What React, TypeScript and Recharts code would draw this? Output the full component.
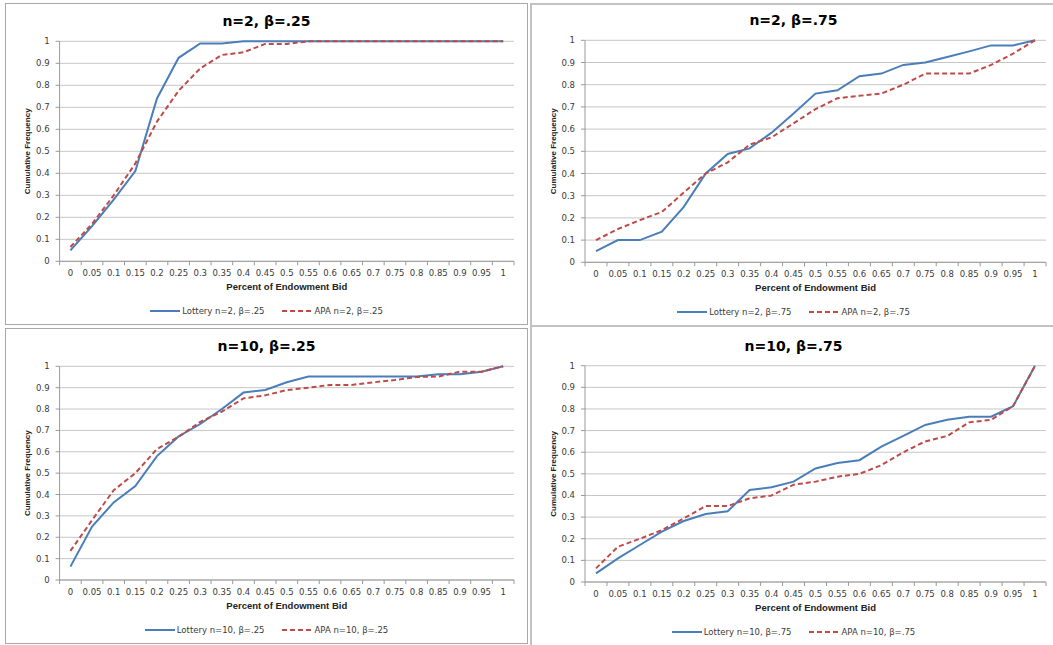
import React from "react"
import { LineChart, Line, XAxis, YAxis, CartesianGrid } from "recharts"

// category axis (share of endowment bid) and value-axis ticks
const bids = ["0", "0.05", "0.1", "0.15", "0.2", "0.25", "0.3", "0.35", "0.4", "0.45", "0.5", "0.55", "0.6", "0.65", "0.7", "0.75", "0.8", "0.85", "0.9", "0.95", "1"]
const yTicks = [0, 0.1, 0.2, 0.3, 0.4, 0.5, 0.6, 0.7, 0.8, 0.9, 1]

// cumulative frequencies
const lotteryN2B25 = [0.05, 0.16, 0.28, 0.41, 0.74, 0.925, 0.99, 0.99, 1, 1, 1, 1, 1, 1, 1, 1, 1, 1, 1, 1, 1]
const apaN2B25 = [0.065, 0.17, 0.3, 0.445, 0.635, 0.775, 0.877, 0.938, 0.95, 0.988, 0.988, 1, 1, 1, 1, 1, 1, 1, 1, 1, 1]

const lotteryN2B75 = [0.05, 0.1, 0.1, 0.138, 0.25, 0.4, 0.488, 0.513, 0.584, 0.67, 0.76, 0.775, 0.838, 0.85, 0.889, 0.9, 0.925, 0.95, 0.977, 0.977, 1]
const apaN2B75 = [0.1, 0.15, 0.19, 0.227, 0.314, 0.4, 0.45, 0.53, 0.563, 0.626, 0.69, 0.739, 0.75, 0.76, 0.8, 0.85, 0.85, 0.85, 0.889, 0.94, 1]

const lotteryN10B25 = [0.0625, 0.25, 0.363, 0.44, 0.58, 0.672, 0.73, 0.8, 0.877, 0.889, 0.925, 0.952, 0.952, 0.952, 0.952, 0.952, 0.952, 0.963, 0.963, 0.975, 1]
const apaN10B25 = [0.136, 0.28, 0.42, 0.5, 0.613, 0.67, 0.74, 0.788, 0.85, 0.864, 0.889, 0.9, 0.913, 0.913, 0.925, 0.936, 0.95, 0.952, 0.975, 0.975, 1]

const lotteryN10B75 = [0.04, 0.109, 0.171, 0.233, 0.282, 0.314, 0.327, 0.425, 0.438, 0.464, 0.525, 0.55, 0.563, 0.626, 0.676, 0.726, 0.75, 0.764, 0.764, 0.813, 1]
const apaN10B75 = [0.063, 0.163, 0.2, 0.24, 0.294, 0.351, 0.351, 0.387, 0.4, 0.45, 0.464, 0.487, 0.5, 0.54, 0.6, 0.65, 0.675, 0.738, 0.75, 0.813, 1]

const BLUE = "#4A7EBB"
const RED = "#BE4B48"
const GRID = "#C6C6C6"
const AXIS = "#9A9A9A"
const TEXT = "#3A3A3A"
const FONT = "'DejaVu Sans', Verdana, sans-serif"
const TITLE_FONT = "'Liberation Sans', Arial, sans-serif"

const Y_AXIS_W = 40
const X_AXIS_H = 30

const panels = [
  {
    title: "n=2, β=.25",
    lottery: lotteryN2B25,
    apa: apaN2B25,
    lotteryName: "Lottery n=2, β=.25",
    apaName: "APA n=2, β=.25",
    box: { left: 5, top: 3, width: 523, height: 322, border: "1px solid #A8A8A8" },
    plot: { x1: 59.6, x2: 514, y1: 41.3, y2: 261.3 },
  },
  {
    title: "n=2, β=.75",
    lottery: lotteryN2B75,
    apa: apaN2B75,
    lotteryName: "Lottery n=2, β=.75",
    apaName: "APA n=2, β=.75",
    box: { left: 530, top: 3, width: 527, height: 324, border: "2px solid #C2C2C2" },
    plot: { x1: 585, x2: 1046, y1: 40.3, y2: 262.3 },
  },
  {
    title: "n=10, β=.25",
    lottery: lotteryN10B25,
    apa: apaN10B25,
    lotteryName: "Lottery n=10, β=.25",
    apaName: "APA n=10, β=.25",
    box: { left: 5, top: 328, width: 523, height: 316, border: "1px solid #A8A8A8" },
    plot: { x1: 59.6, x2: 514, y1: 366.3, y2: 580 },
  },
  {
    title: "n=10, β=.75",
    lottery: lotteryN10B75,
    apa: apaN10B75,
    lotteryName: "Lottery n=10, β=.75",
    apaName: "APA n=10, β=.75",
    box: { left: 530, top: 325, width: 527, height: 330, border: "2px solid #C2C2C2" },
    plot: { x1: 585, x2: 1046, y1: 365.7, y2: 582 },
  },
]

// category tick: label at band centre, Excel-style tick mark at band edges
const XTick = (props: any) => {
  const { x, y, payload, index, visibleTicksCount, width } = props
  const half = payload.offset || width / visibleTicksCount / 2
  return (
    <g>
      <line x1={x - half} x2={x - half} y1={y - 4} y2={y} stroke={AXIS} />
      {index === visibleTicksCount - 1 && <line x1={x + half} x2={x + half} y1={y - 4} y2={y} stroke={AXIS} />}
      <text x={x} y={y + 11} textAnchor="middle" fontSize={8.5} fontFamily={FONT} fill={TEXT}>
        {payload.value}
      </text>
    </g>
  )
}

const LegendItem = ({ color, dashed, name }: { color: string; dashed?: boolean; name: string }) => (
  <div style={{ display: "flex", alignItems: "center" }}>
    <svg width={30} height={6}>
      <line x1={0} x2={30} y1={3} y2={3} stroke={color} strokeWidth={2} strokeDasharray={dashed ? "5 3" : undefined} />
    </svg>
    <span style={{ marginLeft: 2, fontSize: 8.5, fontFamily: FONT, color: TEXT }}>{name}</span>
  </div>
)

const Panel = ({ p }: { p: (typeof panels)[number] }) => {
  const { box, plot } = p
  const rows = bids.map((bid, i) => ({ bid, lottery: p.lottery[i], apa: p.apa[i] }))
  const margin = {
    top: plot.y1 - box.top,
    left: plot.x1 - box.left - Y_AXIS_W,
    right: box.left + box.width - plot.x2,
    bottom: box.top + box.height - plot.y2 - X_AXIS_H,
  }

  return (
    <>
      <div
        style={{
          position: "absolute",
          left: box.left,
          top: box.top,
          width: box.width,
          height: box.height,
          border: box.border,
          boxSizing: "border-box",
        }}
      />
      <div style={{ position: "absolute", left: box.left, top: box.top }}>
        <LineChart width={box.width} height={box.height} data={rows} margin={margin}>
          <CartesianGrid vertical={false} stroke={GRID} />
          <XAxis
            dataKey="bid"
            scale="band"
            interval={0}
            height={X_AXIS_H}
            tickSize={4}
            tickMargin={0}
            tickLine={{ stroke: "none" }}
            axisLine={{ stroke: AXIS }}
            tick={(t: any) => <XTick {...t} />}
            label={{
              value: "Percent of Endowment Bid",
              position: "insideTop",
              offset: 22,
              style: { fontSize: 9.5, fontWeight: 700, fontFamily: TITLE_FONT, fill: "#222" },
            }}
          />
          <YAxis
            type="number"
            domain={[0, 1]}
            ticks={yTicks}
            interval={0}
            width={Y_AXIS_W}
            tickSize={4}
            tickMargin={6}
            tickLine={{ stroke: AXIS }}
            axisLine={{ stroke: AXIS }}
            tick={{ fontSize: 8.5, fontFamily: FONT, fill: TEXT }}
            label={{
              value: "Cumulative Frequency",
              angle: -90,
              position: "insideLeft",
              offset: 8,
              style: { textAnchor: "middle", fontSize: 8, fontWeight: 700, fontFamily: TITLE_FONT, fill: "#222" },
            }}
          />
          <Line type="linear" dataKey="lottery" name={p.lotteryName} stroke={BLUE} strokeWidth={2} dot={false} isAnimationActive={false} />
          <Line
            type="linear"
            dataKey="apa"
            name={p.apaName}
            stroke={RED}
            strokeWidth={2}
            strokeDasharray="5 3"
            dot={false}
            isAnimationActive={false}
          />
        </LineChart>
      </div>
      <div
        style={{
          position: "absolute",
          left: box.left,
          width: box.width,
          top: plot.y1 - 30,
          height: 20,
          lineHeight: "20px",
          textAlign: "center",
          fontFamily: FONT,
          fontWeight: 700,
          fontSize: 14,
          color: "#000",
        }}
      >
        {p.title}
      </div>
      <div
        style={{
          position: "absolute",
          left: box.left,
          width: box.width,
          top: plot.y2 + 43,
          height: 14,
          display: "flex",
          justifyContent: "center",
          alignItems: "center",
          gap: 18,
        }}
      >
        <LegendItem color={BLUE} name={p.lotteryName} />
        <LegendItem color={RED} dashed name={p.apaName} />
      </div>
    </>
  )
}

export default function App() {
  return (
    <div style={{ position: "absolute", left: 0, top: 0, width: 1053, height: 645, overflow: "hidden", background: "#fff" }}>
      {panels.map((p) => (
        <Panel key={p.title} p={p} />
      ))}
    </div>
  )
}
